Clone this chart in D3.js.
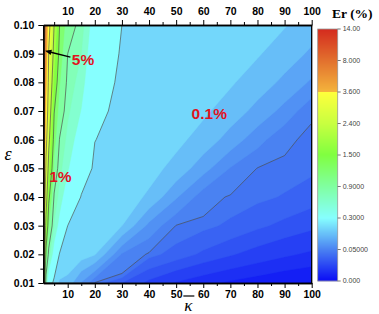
<!DOCTYPE html>
<html>
<head>
<meta charset="utf-8">
<script src="https://cdn.jsdelivr.net/npm/d3@7"></script>
<style>
  body { margin: 0; background: #fff; }
  svg { display: block; font-family: "Liberation Sans", Arial, sans-serif; }
</style>
</head>
<body>
<svg id="chart" width="379" height="314"></svg>
<script>
// grid: kappa columns, epsilon rows
const kappa = [1, 1.5, 2, 3, 5, 7, 10, 15, 20, 30, 40, 50, 60, 70, 80, 90, 100];
const eps = [0.01, 0.02, 0.03, 0.04, 0.05, 0.06, 0.07, 0.08, 0.09, 0.10];

// Er (%) for each kappa column, bottom (eps=0.01) to top (eps=0.10)
const erK1   = [4.5, 6.0, 7.5, 8.6, 9.6, 10.6, 11.6, 12.5, 13.3, 14.0];
const erK1_5 = [1.6, 2.6, 3.1, 3.96, 5.0, 5.86, 6.58, 7.2, 7.75, 8.41];
const erK2   = [0.73, 1.32, 2.13, 2.82, 3.35, 3.97, 4.69, 5.31, 5.86, 6.35];
const erK3   = [0.42, 0.82, 1.19, 1.59, 2.13, 2.56, 2.93, 3.25, 3.54, 3.96];
const erK5   = [0.255, 0.50, 0.73, 0.87, 1.09, 1.32, 1.52, 1.84, 2.13, 2.38];
const erK7   = [0.21, 0.29, 0.53, 0.69, 0.80, 0.89, 1.06, 1.22, 1.37, 1.50];
const erK10  = [0.20, 0.27, 0.30, 0.46, 0.62, 0.70, 0.78, 0.84, 0.90, 1.03];
const erK15  = [0.117, 0.247, 0.274, 0.293, 0.376, 0.494, 0.593, 0.677, 0.751, 0.817];
const erK20  = [0.0476, 0.224, 0.251, 0.270, 0.280, 0.302, 0.33, 0.37, 0.42, 0.48];
const erK30  = [0.037, 0.076, 0.221, 0.240, 0.254, 0.262, 0.270, 0.275, 0.285, 0.300];
const erK40  = [0.028, 0.0463, 0.107, 0.214, 0.234, 0.246, 0.256, 0.263, 0.270, 0.277];
const erK50  = [0.0213, 0.0411, 0.0489, 0.125, 0.208, 0.230, 0.240, 0.249, 0.257, 0.264];
const erK60  = [0.017, 0.0355, 0.0458, 0.0589, 0.1375, 0.205, 0.227, 0.236, 0.244, 0.251];
const erK70  = [0.0137, 0.0308, 0.0426, 0.0478, 0.0781, 0.146, 0.202, 0.225, 0.233, 0.240];
const erK80  = [0.0111, 0.0268, 0.0385, 0.0456, 0.0492, 0.0935, 0.152, 0.200, 0.224, 0.231];
const erK90  = [0.0088, 0.0233, 0.035, 0.0434, 0.0472, 0.0535, 0.105, 0.157, 0.199, 0.223];
const erK100 = [0.0075, 0.0206, 0.0318, 0.0402, 0.0455, 0.046, 0.053, 0.113, 0.160, 0.198];
const erColumns = [erK1, erK1_5, erK2, erK3, erK5, erK7, erK10, erK15, erK20,
                   erK30, erK40, erK50, erK60, erK70, erK80, erK90, erK100];

// colour bar levels
const levelValues = [0, 0.05, 0.3, 0.9, 1.5, 2.4, 3.6, 8, 14];
const levelLabels = ["0.000", "0.05000", "0.3000", "0.9000", "1.500", "2.400", "3.600", "8.000", "14.00"];
const bandThresholds = [0, 0.008, 0.015, 0.022, 0.03, 0.037, 0.044, 0.05, 0.08, 0.12, 0.17, 0.22,
                        0.3, 0.6, 0.75, 0.9, 1.2, 1.5, 1.95, 2.4, 3.0, 3.6, 5.0, 6.5, 8, 11, 14];
const lineLevels = [0.05, 0.3, 0.9, 1.5, 2.4, 3.6, 8];

const xMajor = [10, 20, 30, 40, 50, 60, 70, 80, 90, 100];
const xMinor = [5, 15, 25, 35, 45, 55, 65, 75, 85, 95];
const yMajor = [0.01, 0.02, 0.03, 0.04, 0.05, 0.06, 0.07, 0.08, 0.09, 0.10];
const yMinor = [0.015, 0.025, 0.035, 0.045, 0.055, 0.065, 0.075, 0.085, 0.095];

const svg = d3.select("#chart");
const pLeft = 43.3, pRight = 311.7, pTop = 25, pBottom = 283;

const x = d3.scaleLinear().domain([1, 100]).range([pLeft, pRight]);
const y = d3.scaleLinear().domain([0.01, 0.10]).range([pBottom, pTop]);

const color = d3.scaleLinear()
    .domain([0, 0.05, 0.3, 0.9, 1.5, 2.4, 3.6, 3.6001, 8, 14])
    .range(["#0a0cf5", "#4a82f2", "#86ffff", "#80ffa0", "#80ff40", "#c8ff40",
            "#ffff3c", "#f4b43c", "#e2702e", "#d42a1e"])
    .clamp(true);

// contours on the non-uniform grid
const nx = kappa.length, ny = eps.length;
const values = new Array(nx * ny);
for (let j = 0; j < ny; j++) {
    for (let i = 0; i < nx; i++) values[j * nx + i] = erColumns[i][j];
}
const kAt = d3.scaleLinear().domain(d3.range(nx)).range(kappa);
const eAt = d3.scaleLinear().domain(d3.range(ny)).range(eps);
const clampI = (v, n) => Math.max(0, Math.min(n - 1, v - 0.5));
const path = d3.geoPath(d3.geoTransform({
    point: function(px, py) {
        this.stream.point(x(kAt(clampI(px, nx))), y(eAt(clampI(py, ny))));
    }
}));

svg.append("clipPath").attr("id", "plotClip")
    .append("rect").attr("x", pLeft).attr("y", pTop)
    .attr("width", pRight - pLeft).attr("height", pBottom - pTop);

const plot = svg.append("g").attr("clip-path", "url(#plotClip)");

const bands = d3.contours().size([nx, ny]).thresholds(bandThresholds)(values);
plot.append("g")
    .selectAll("path")
    .data(bands)
    .enter().append("path")
    .attr("d", path)
    .attr("fill", function(d) { return color(d.value); })
    .attr("stroke", function(d) { return color(d.value); })
    .attr("stroke-width", 0.4);

const isolines = d3.contours().size([nx, ny]).thresholds(lineLevels)(values);
plot.append("g")
    .selectAll("path")
    .data(isolines)
    .enter().append("path")
    .attr("d", path)
    .attr("fill", "none")
    .attr("stroke", "#4d4d4d")
    .attr("stroke-opacity", 0.85)
    .attr("stroke-width", 0.8);

// axes
function styleAxis(g) {
    g.select(".domain").attr("stroke", "#000").attr("stroke-width", 1.3);
    g.selectAll(".tick line").attr("stroke", "#000").attr("stroke-width", 1);
    g.selectAll("text").attr("font-size", 10.5).attr("font-weight", "bold")
        .attr("font-family", "'Liberation Sans', Arial, sans-serif").attr("fill", "#000");
}

svg.append("g").attr("transform", "translate(0," + pBottom + ")")
    .call(d3.axisBottom(x).tickValues(xMinor).tickSize(3).tickSizeOuter(0).tickFormat(""))
    .call(styleAxis);
svg.append("g").attr("transform", "translate(0," + pBottom + ")")
    .call(d3.axisBottom(x).tickValues(xMajor).tickSize(5).tickSizeOuter(0).tickPadding(3)
        .tickFormat(d3.format("d")))
    .call(styleAxis);
svg.append("g").attr("transform", "translate(0," + pTop + ")")
    .call(d3.axisTop(x).tickValues(xMinor).tickSize(3).tickSizeOuter(0).tickFormat(""))
    .call(styleAxis);
svg.append("g").attr("transform", "translate(0," + pTop + ")")
    .call(d3.axisTop(x).tickValues(xMajor).tickSize(5).tickSizeOuter(0).tickPadding(5)
        .tickFormat(d3.format("d")))
    .call(styleAxis);
svg.append("g").attr("transform", "translate(" + pLeft + ",0)")
    .call(d3.axisLeft(y).tickValues(yMinor).tickSize(3).tickSizeOuter(0).tickFormat(""))
    .call(styleAxis);
svg.append("g").attr("transform", "translate(" + pLeft + ",0)")
    .call(d3.axisLeft(y).tickValues(yMajor).tickSize(5).tickSizeOuter(0).tickPadding(4)
        .tickFormat(d3.format(".2f")))
    .call(styleAxis);
svg.append("line")
    .attr("x1", pRight).attr("x2", pRight).attr("y1", pTop).attr("y2", pBottom)
    .attr("stroke", "#000").attr("stroke-width", 1.3);

// axis titles
svg.append("text")
    .attr("x", 8).attr("y", 160)
    .attr("text-anchor", "middle")
    .attr("font-family", "'Liberation Serif', 'DejaVu Serif', serif")
    .attr("font-style", "italic")
    .attr("font-size", 18)
    .text("\u03b5");
const kLabel = svg.append("g").attr("transform", "translate(" + x(54.5) + ",0)");
kLabel.append("text")
    .attr("x", 0).attr("y", 311)
    .attr("text-anchor", "middle")
    .attr("font-family", "'Liberation Serif', 'DejaVu Serif', serif")
    .attr("font-style", "italic")
    .attr("font-size", 17)
    .text("\u03ba");
kLabel.append("line")
    .attr("x1", -5).attr("x2", 6).attr("y1", 296).attr("y2", 296)
    .attr("stroke", "#000").attr("stroke-width", 1.2);

// annotations
function note(k, e, txt) {
    svg.append("text")
        .attr("x", x(k)).attr("y", y(e))
        .attr("fill", "#e0141e")
        .attr("font-weight", "bold")
        .attr("font-size", 15.5)
        .text(txt);
}
note(11.5, 0.0860, "5%");
note(3.2, 0.0453, "1%");
note(55.7, 0.0671, "0.1%");

const tip = [x(1.63), y(0.0910)], tail = [x(11.0), y(0.0888)];
const ang = Math.atan2(tail[1] - tip[1], tail[0] - tip[0]);
svg.append("line")
    .attr("x1", tail[0]).attr("y1", tail[1])
    .attr("x2", tip[0] + 5 * Math.cos(ang)).attr("y2", tip[1] + 5 * Math.sin(ang))
    .attr("stroke", "#000").attr("stroke-width", 1.4);
svg.append("path")
    .attr("d", d3.line()([
        tip,
        [tip[0] + 7 * Math.cos(ang + 0.4), tip[1] + 7 * Math.sin(ang + 0.4)],
        [tip[0] + 7 * Math.cos(ang - 0.4), tip[1] + 7 * Math.sin(ang - 0.4)]
    ]) + "Z")
    .attr("fill", "#000");

// colour bar
const cbLeft = 317.7, cbWidth = 20, cbTop = 29, cbBottom = 281;
const cbY = d3.scaleLinear()
    .domain(levelValues)
    .range(levelValues.map(function(d, i) { return cbBottom - i * (cbBottom - cbTop) / (levelValues.length - 1); }));
const cb = svg.append("g");
cb.selectAll("rect.cell")
    .data(d3.range(cbTop, cbBottom, 1))
    .enter().append("rect")
    .attr("class", "cell")
    .attr("x", cbLeft).attr("y", function(d) { return d; })
    .attr("width", cbWidth).attr("height", 1.2)
    .attr("fill", function(d) { return color(cbY.invert(d + 0.5)); });
cb.append("rect")
    .attr("x", cbLeft).attr("y", cbTop)
    .attr("width", cbWidth).attr("height", cbBottom - cbTop)
    .attr("fill", "none").attr("stroke", "#9a9a9a").attr("stroke-width", 0.8);
const cbTicks = cb.selectAll("g.cbtick")
    .data(levelValues)
    .enter().append("g")
    .attr("class", "cbtick")
    .attr("transform", function(d) { return "translate(" + (cbLeft + cbWidth) + "," + cbY(d) + ")"; });
cbTicks.append("line")
    .attr("x1", 0).attr("x2", 3)
    .attr("stroke", "#555").attr("stroke-width", 0.8);
cbTicks.append("text")
    .attr("x", 5).attr("dy", "0.35em")
    .attr("font-size", 7)
    .attr("fill", "#444")
    .text(function(d, i) { return levelLabels[i]; });

svg.append("text")
    .attr("x", 332).attr("y", 18)
    .attr("font-family", "'Liberation Serif', 'DejaVu Serif', serif")
    .attr("font-weight", "bold")
    .attr("font-size", 13.5)
    .text("Er (%)");
</script>
</body>
</html>
